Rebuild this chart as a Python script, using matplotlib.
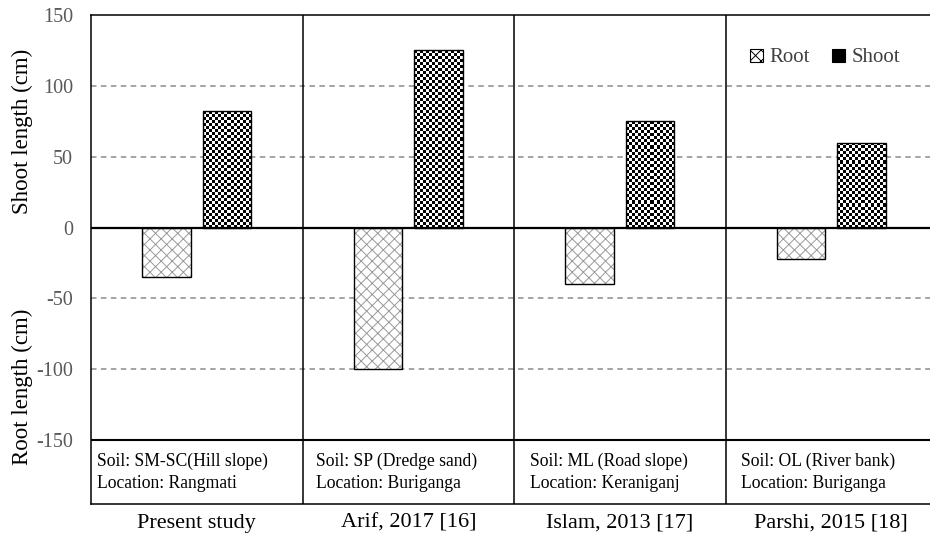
import numpy as np
import matplotlib
matplotlib.use('Agg')
import matplotlib.pyplot as plt
from matplotlib.patches import Patch

plt.rcParams['font.family'] = ['Liberation Serif', 'DejaVu Serif']
plt.rcParams['hatch.linewidth'] = 0.7

studies = ['Present study', 'Arif, 2017 [16]', 'Islam, 2013 [17]', 'Parshi, 2015 [18]']
soil = ['Soil: SM-SC(Hill slope)', 'Soil: SP (Dredge sand)', 'Soil: ML (Road slope)', 'Soil: OL (River bank)']
location = ['Location: Rangmati', 'Location: Buriganga', 'Location: Keraniganj', 'Location: Buriganga']
root = [-35, -100, -40, -22]
shoot = [82, 125, 75, 60]
yticks = [-150, -100, -50, 0, 50, 100, 150]

txt_off = [0.03, 0.065, 0.075, 0.075]   # left offset of soil text in each cell
bw = 0.23
off = 0.143
ybot = -195

fig = plt.figure(figsize=(9.3, 5.36), dpi=100)
ax = fig.add_axes([91/930, 1-504/536, 846/930, 489/536])
x = np.arange(len(studies))

# grid
for v in [100, 50, -50, -100]:
    ax.axhline(v, color='#8c8c8c', lw=1.1, dashes=(3.6, 2.9), zorder=1)
ax.axhline(0, color='black', lw=1.6, zorder=4)
ax.axhline(-150, color='black', lw=1.5, zorder=4)
for xv in x[:-1] + 0.5:
    ax.axvline(xv, color='black', lw=1.1, zorder=4)

# root bars: grey wave-ish hatch + black outline
ax.bar(x - off, root, bw, color='white', edgecolor='#9a9a9a', hatch='xxx', lw=0, zorder=2)
ax.bar(x - off, root, bw, fill=False, edgecolor='black', lw=1.0, zorder=3)

# shoot bars: checkerboard clipped to bar
sb = ax.bar(x + off, shoot, bw, fill=False, edgecolor='black', lw=1.0, zorder=3)
ax.set_xlim(-0.5, 3.5)
ax.set_ylim(ybot, 150)
fig.canvas.draw()
for r in sb:
    x0, y0, w, h = r.get_x(), r.get_y(), r.get_width(), r.get_height()
    p0 = ax.transData.transform((x0, y0))
    p1 = ax.transData.transform((x0 + w, y0 + h))
    nx = max(int(round(abs(p1[0] - p0[0]) / 3.0)), 1)
    ny = max(int(round(abs(p1[1] - p0[1]) / 3.0)), 1)
    cb = (np.add.outer(np.arange(ny), np.arange(nx)) % 2).astype(float)
    im = ax.imshow(cb, cmap='gray', vmin=0, vmax=1, extent=(x0, x0 + w, y0, y0 + h),
                   aspect='auto', interpolation='nearest', zorder=2.5, origin='lower')
    im.set_clip_path(r)
ax.set_xlim(-0.5, 3.5)
ax.set_ylim(ybot, 150)

# soil / location text
for i in x:
    ax.text(i - 0.5 + txt_off[i], -172.5, soil[i] + '\n' + location[i], fontsize=12.7,
            ha='left', va='center', linespacing=1.38, zorder=5)

ax.set_yticks(yticks)
ax.set_yticklabels([str(v) for v in yticks], fontsize=14.5, color='#595959')
ax.tick_params(axis='y', length=0, pad=13)
ax.set_xticks(x)
ax.set_xticklabels(studies, fontsize=16)
ax.tick_params(axis='x', length=0, pad=7)
for s in ax.spines.values():
    s.set_linewidth(1.1)
ax.spines['right'].set_visible(False)

fig.text(22/930, 1-131/536, 'Shoot length (cm)', rotation=90, fontsize=16.5, ha='center', va='center')
fig.text(22/930, 1-387/536, 'Root length (cm)', rotation=90, fontsize=16.5, ha='center', va='center')

handles = [Patch(facecolor='white', edgecolor='black', hatch='xxx', lw=0.8),
           Patch(facecolor='black', edgecolor='black', lw=0.8)]
leg = fig.legend(handles, ['Root', 'Shoot'], loc='center', bbox_to_anchor=(825/930, 1-58/536),
                 ncol=2, frameon=False, fontsize=15, handlelength=0.6, handleheight=0.6,
                 handletextpad=0.3, columnspacing=1.1)
for t in leg.get_texts():
    t.set_color('#404040')

fig.savefig('out.png', dpi=100)
